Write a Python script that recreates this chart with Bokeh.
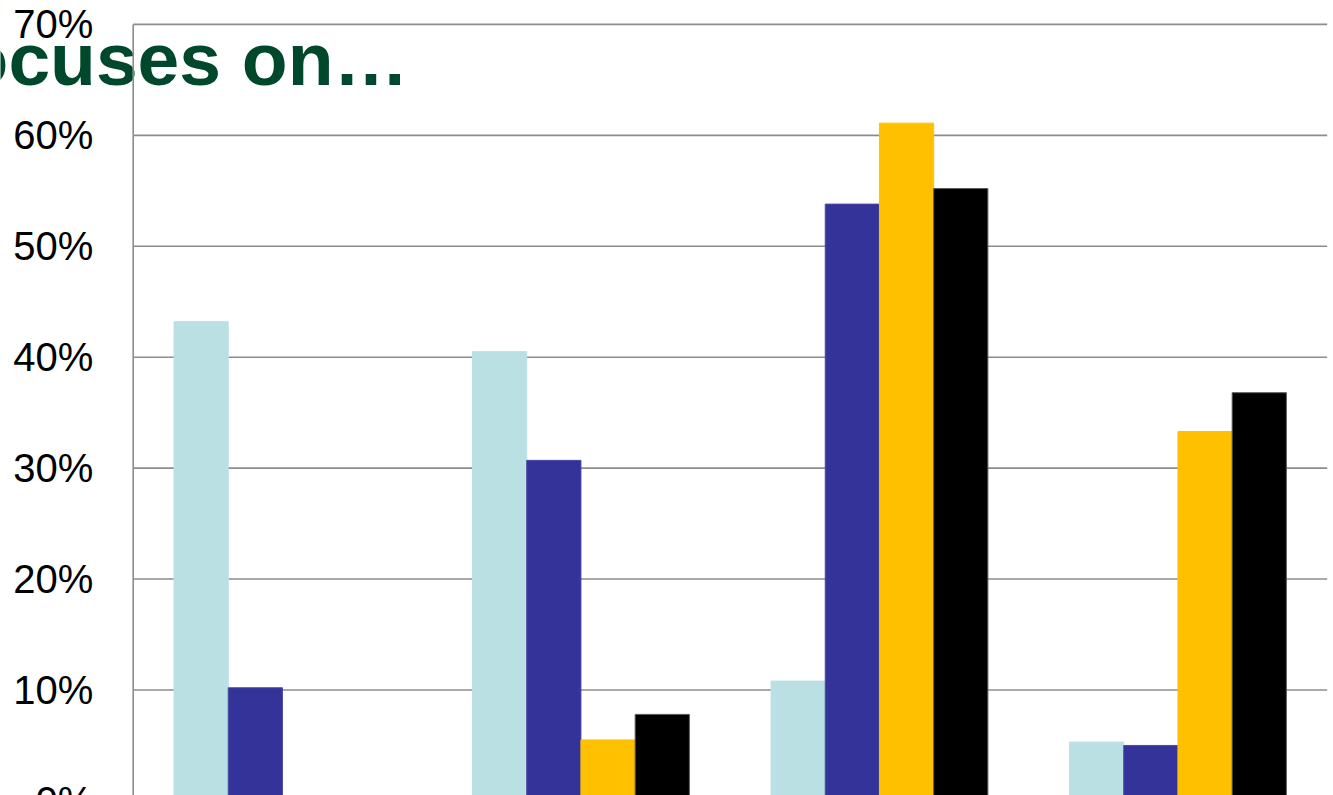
from bokeh.plotting import figure
from bokeh.models import Range1d, Label, ColumnDataSource
from bokeh.transform import dodge
from bokeh.core.properties import value
from bokeh.embed import file_html
from bokeh.resources import INLINE

# ---- data ----
groups = ["Group 1", "Group 2", "Group 3", "Group 4"]
series = ["Series 1", "Series 2", "Series 3", "Series 4"]
colors = ["#BBE0E3", "#333399", "#FFC000", "#000000"]
outlines = ["#BBE0E3", "#4A4AA6", "#FFC000", "#5A5A5A"]
s1 = [0.432, 0.405, 0.108, 0.053]
s2 = [0.102, 0.307, 0.538, 0.050]
s3 = [0.0, 0.055, 0.611, 0.333]
s4 = [0.0, 0.078, 0.552, 0.368]
values_by_series = [s1, s2, s3, s4]
y_ticks = [0.0, 0.1, 0.2, 0.3, 0.4, 0.5, 0.6, 0.7]
tick_labels = ["0%", "10%", "20%", "30%", "40%", "50%", "60%", "70%"]
title_text = "ocuses on\u2026"

FONT = "Liberation Sans"
W, H = 1333, 795

# layout (pixels): plot area from x=133 to x=1327, 70% at y=24, 11.093 px per percent
px_per_group = 298.5
px_per_unit_y = 1109.3
left_px, right_px, top_px = 132.7, 1326.7, 23.9
n = len(groups)
x_start = -left_px / px_per_group
x_end = n + (W - right_px) / px_per_group
y_end = y_ticks[-1] + top_px / px_per_unit_y
y_start = y_ticks[-1] - (H - top_px) / px_per_unit_y
bar_w = 0.1816

p = figure(width=W, height=H, x_range=Range1d(x_start, x_end), y_range=Range1d(y_start, y_end),
           x_axis_location=None, y_axis_location=None, title=None, toolbar_location=None,
           output_backend="svg", min_border=0)
p.min_border_left = p.min_border_right = p.min_border_top = p.min_border_bottom = 0
p.outline_line_color = None
p.background_fill_color = "white"
p.border_fill_color = "white"
p.grid.visible = False

grid_src = ColumnDataSource(dict(y=y_ticks, x0=[0] * len(y_ticks), x1=[n] * len(y_ticks),
                                 label=tick_labels))

title_lbl = Label(x=408, y=H - 58, x_units="screen", y_units="screen", text=title_text,
                  text_align="right", text_baseline="alphabetic",
                  text_font=FONT, text_font_size="75px", text_font_style="bold",
                  text_color="#00482B", level="underlay")
p.add_layout(title_lbl)

# gridlines
p.segment(x0="x0", y0="y", x1="x1", y1="y", source=grid_src,
          line_color="#8C8C8C", line_width=1.6)

# bars
centers = [i + 0.5 for i in range(n)]
for si, (sname, vals) in enumerate(zip(series, values_by_series)):
    src = ColumnDataSource(dict(x=centers, top=vals))
    off = (si - (len(series) - 1) / 2) * bar_w
    p.vbar(x=dodge("x", off), top="top", bottom=0, width=bar_w, source=src,
           fill_color=colors[si], line_color=outlines[si], line_width=1)

# y axis line
p.segment(x0=[0], y0=[y_start], x1=[0], y1=[y_ticks[-1]],
          line_color="#8C8C8C", line_width=1.6)

# y tick labels
p.text(x=0, y="y", text="label", source=grid_src, x_offset=-40,
       text_align="right", text_baseline="middle",
       text_font=value(FONT), text_font_size="40px", text_color="#000000")

open("out.html", "w").write(file_html(p, INLINE))
